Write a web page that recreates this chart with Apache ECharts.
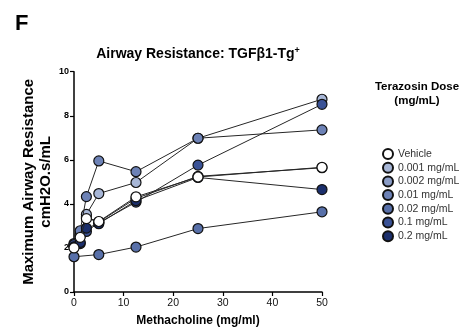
<!DOCTYPE html>
<html><head><meta charset="utf-8">
<script src="https://cdn.jsdelivr.net/npm/echarts@6/dist/echarts.min.js"></script>
<style>html,body{margin:0;padding:0;background:#fff}#c{width:463px;height:332px}</style>
</head><body><div id="c"></div>
<script>
const doses = [0, 1.25, 2.5, 5, 12.5, 25, 50];
const seriesNames = ['Vehicle', '0.001 mg/mL', '0.002 mg/mL', '0.01 mg/mL', '0.02 mg/mL', '0.1 mg/mL', '0.2 mg/mL'];
const vehicle = [2.0, 2.48, 3.33, 3.2, 4.32, 5.22, 5.66];
const d0001 = [2.1, 2.62, 3.52, 4.47, 4.97, 6.98, 8.75];
const d0002 = [2.1, 2.55, 3.4, 3.18, 4.25, 5.25, 5.64];
const d001 = [2.2, 2.78, 4.33, 5.95, 5.46, 6.98, 7.36];
const d002 = [1.6, null, null, 1.7, 2.04, 2.88, 3.64];
const d01 = [2.15, 2.2, 2.75, 3.14, 4.08, 5.76, 8.52];
const d02 = [2.05, 2.25, 2.9, 3.1, 4.15, 5.2, 4.65];
const yTicks = [0, 2, 4, 6, 8, 10];
const xTicks = [0, 10, 20, 30, 40, 50];

const colors = ['#ffffff', '#a7b6d6', '#8a9cc6', '#6d82b6', '#5870a9', '#3a5296', '#1b2f6c'];
const values = [vehicle, d0001, d0002, d001, d002, d01, d02];
const FONT = 'Liberation Sans, Arial, sans-serif';

const chart = echarts.init(document.getElementById('c'), null, {renderer: 'canvas'});
const series = seriesNames.map((n, i) => ({
  name: n, type: 'line', connectNulls: true,
  data: doses.map((d, j) => [d, values[i][j]]).filter(p => p[1] !== null),
  symbol: 'circle', symbolSize: 10,
  z: i === 0 ? 10 : 2 + (i === 2 ? 0 : i),
  lineStyle: {color: '#262626', width: 1},
  itemStyle: {color: colors[i], borderColor: '#111', borderWidth: 1.2},
  emphasis: {disabled: true}
}));
chart.setOption({
  animation: false,
  textStyle: {fontFamily: FONT},
  title: [
    {text: 'F', left: 10, top: 8, textStyle: {fontFamily: FONT, fontSize: 22, fontWeight: 'bold', color: '#000'}},
    {text: '{a|Airway Resistance: TGFβ1-Tg}{s|+}', left: 193, top: 41, textAlign: 'center',
     textStyle: {rich: {a: {fontFamily: FONT, fontSize: 14, fontWeight: 'bold', color: '#000'},
       s: {fontFamily: FONT, fontSize: 9, fontWeight: 'bold', color: '#000', verticalAlign: 'top', padding: [0,0,7,0]}}}}
  ],
  graphic: [{
    type: 'text', x: 417, y: 80,
    style: {text: 'Terazosin Dose\n(mg/mL)', align: 'center', textAlign: 'center', verticalAlign: 'top', fill: '#000',
      font: 'bold 11.5px Liberation Sans, Arial, sans-serif', lineHeight: 14}
  }],
  legend: {
    orient: 'vertical', left: 377, top: 143, itemWidth: 10, itemHeight: 10, itemGap: 1.7,
    icon: 'circle',
    data: seriesNames,
    textStyle: {fontFamily: FONT, fontSize: 10.5, color: '#333'},
    selectedMode: false
  },
  grid: {left: 74, right: 141, top: 71.7, bottom: 39.3},
  xAxis: {
    type: 'value', min: 0, max: 50, interval: 10,
    name: 'Methacholine (mg/ml)', nameLocation: 'middle', nameGap: 23,
    nameTextStyle: {fontFamily: FONT, fontSize: 12, fontWeight: 'bold', color: '#000'},
    axisLine: {show: true, lineStyle: {color: '#000', width: 1.5}},
    axisTick: {show: true, length: 4, lineStyle: {color: '#000', width: 1.2}},
    axisLabel: {fontFamily: FONT, fontSize: 10.5, color: '#111', margin: 6,
      formatter: v => xTicks.includes(v) ? String(v) : ''},
    splitLine: {show: false}
  },
  yAxis: {
    type: 'value', min: 0, max: 10, interval: 2,
    name: 'Maximum Airway Resistance\ncmH2O.s/mL', nameLocation: 'middle', nameGap: 20,
    nameMoveOverlap: false,
    nameTextStyle: {fontFamily: FONT, fontSize: 15, fontWeight: 'bold', color: '#000', lineHeight: 17},
    axisLine: {show: true, lineStyle: {color: '#000', width: 1.5}},
    axisTick: {show: true, length: 4, lineStyle: {color: '#000', width: 1.2}},
    axisLabel: {fontFamily: FONT, fontSize: 9, color: '#000', margin: 5, fontWeight: 'bold',
      formatter: v => yTicks.includes(v) ? String(v) : ''},
    splitLine: {show: false}
  },
  series: series
});
</script></body></html>
